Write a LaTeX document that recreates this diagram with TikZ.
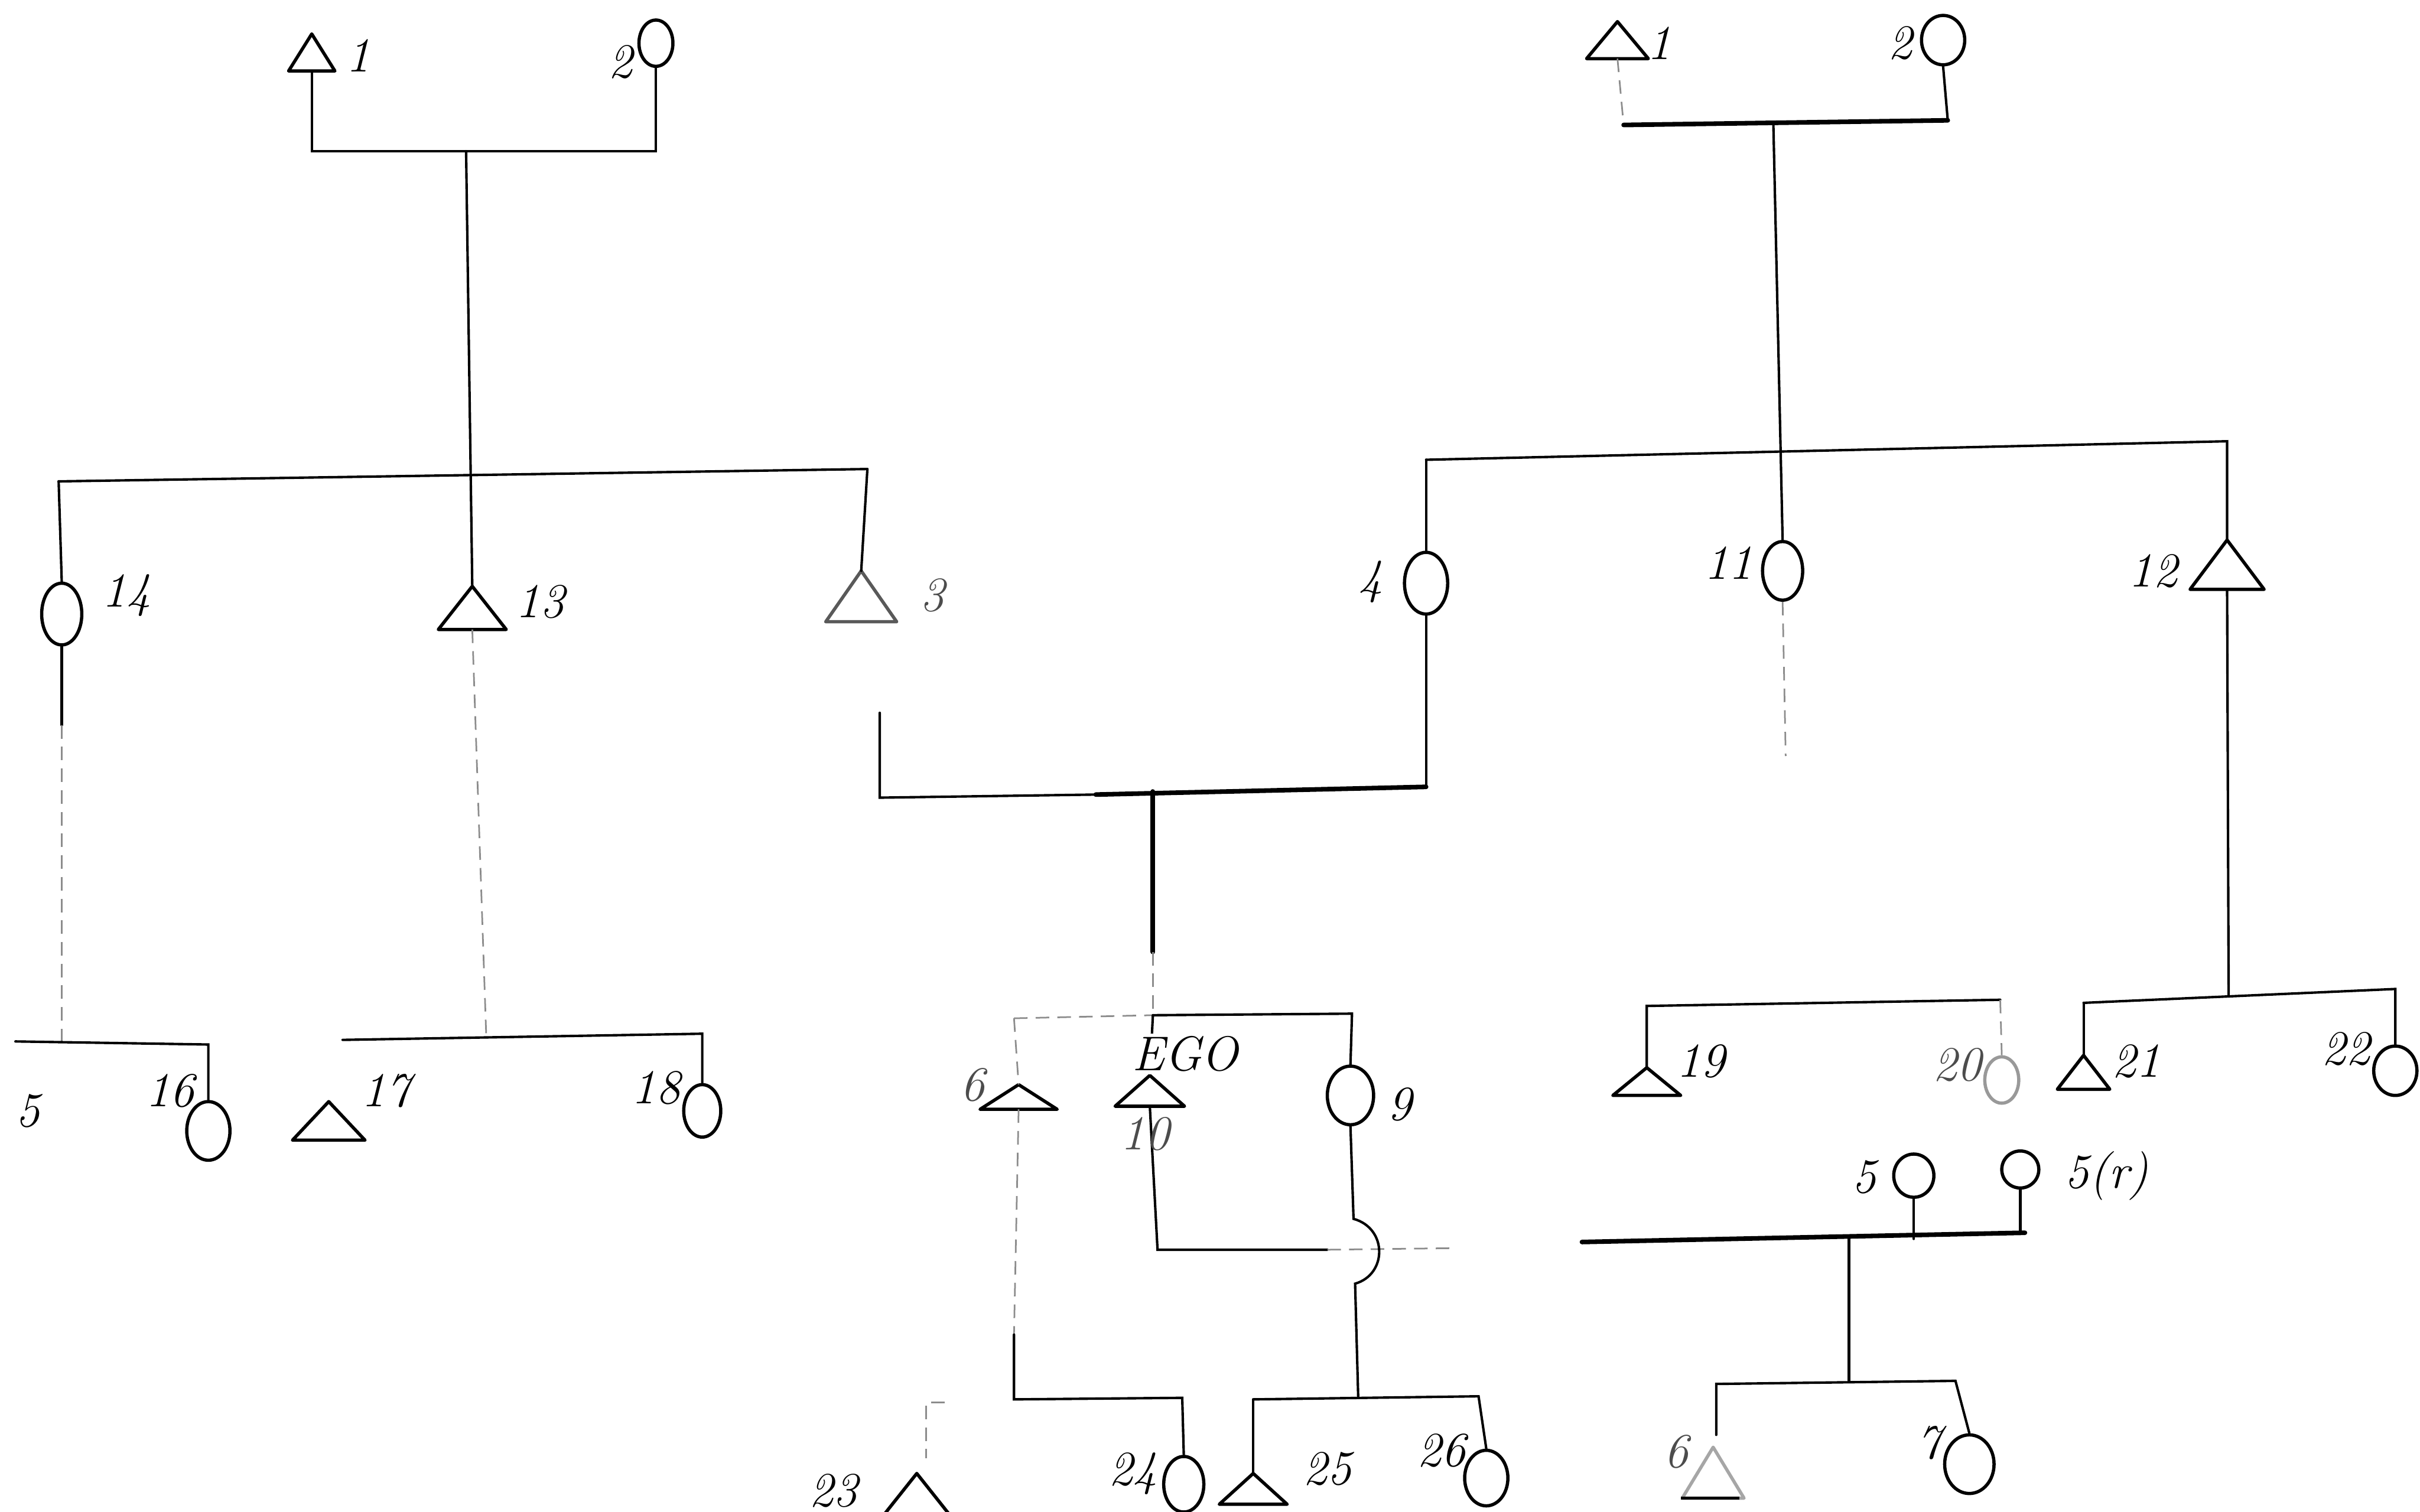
\documentclass[tikz,border=0pt]{standalone}
\usetikzlibrary{shapes.geometric}
\begin{document}
\begin{tikzpicture}[x=0.2mm,y=-0.2mm,
  ln/.style={line width=0.9pt, line cap=round},
  thk/.style={line width=1.7pt, line cap=round},
  fnt/.style={line width=0.6pt, black!45, dash pattern=on 5pt off 3pt},
  shp/.style={line width=1.2pt, line join=round},
  fem/.style 2 args={draw, ellipse, line width=1.2pt, inner sep=0pt, minimum width=#1*0.2mm, minimum height=#2*0.2mm},
  lbl/.style={font=\fontsize{18}{20}\selectfont\itshape, inner sep=0pt},
  pics/tri/.style args={#1/#2}{code={\draw[shp] (0,0) coordinate (-apex) -- ({#1/2},#2) -- ({-#1/2},#2) -- cycle; \coordinate (-base) at (0,#2);}}
]
\useasboundingbox (0,0) rectangle (1568,980);
\fill[white] (0,0) rectangle (1568,980);
\clip (0,0) rectangle (1568,980);

% ---------------- left tree ----------------
\pic (t1a) at (202,22) {tri=30/24};
\node[fem={22}{30}] (c2a) at (425,28) {};
\coordinate (m1l) at (202,98); \coordinate (m1r) at (425,98); \coordinate (d1) at (302,98);
\draw[ln] (t1a-base) -- (m1l) -- (m1r) -- (c2a.south);

\pic (t13) at (306,380) {tri=44/28};
\pic[black!65] (t3) at (558,370) {tri=46/33};
\node[fem={26}{40}] (c14) at (40,398) {};
\coordinate (s1l) at (38,312); \coordinate (s1r) at (562,304);
\draw[ln] (d1) -- (t13-apex);
\draw[ln] (s1l) -- (s1r);
\draw[ln] (s1l) -- (c14.north);
\draw[ln] (s1r) -- (t3-apex);

% children of 14
\node[fem={28}{38}] (c16) at (135,733) {};
\coordinate (k14) at (40,470); \coordinate (k14b) at (40,675);
\coordinate (b5l) at (10,675); \coordinate (b5r) at (135,677);
\draw[ln] (c14.south) -- (k14);
\draw[fnt] (k14) -- (k14b);
\draw[ln] (b5l) -- (b5r) -- (c16.north);

% children of 13
\pic (t17) at (213,714) {tri=47/25};
\node[fem={24}{34}] (c18) at (455,720) {};
\coordinate (k13) at (315,670); \coordinate (b17) at (222,674); \coordinate (b18) at (455,670);
\draw[fnt] (t13-base) -- (k13);
\draw[ln] (b17) -- (b18) -- (c18.north);

% ---------------- middle: marriage 3 -- 4 ----------------
\node[fem={28}{40}] (c4) at (924,378) {};
\coordinate (g3) at (570,462); \coordinate (g3b) at (570,517); \coordinate (gm) at (710,515);
\coordinate (g4) at (924,510); \coordinate (gs) at (747,513); \coordinate (gs2) at (747,617); \coordinate (gs3) at (747,658);
\draw[ln] (g3) -- (g3b) -- (gm);
\draw[thk] (gm) -- (g4);
\draw[ln] (g4) -- (c4.south);
\draw[thk] (gs) -- (gs2);
\draw[fnt] (gs2) -- (gs3);

% siblings 6, EGO/10, 9
\pic (t6) at (660,703) {tri=50/16};
\pic (t10) at (745,697) {tri=45/20};
\node[fem={30}{38}] (c9) at (875,710) {};
\coordinate (sb6) at (657,660); \coordinate (sb9) at (876,657);
\draw[fnt] (sb6) -- (gs3);
\draw[ln] (gs3) -- (sb9) -- (c9.north);
\draw[fnt] (sb6) -- (t6-apex);
\draw[ln] (gs3) -- (t10-apex);

% line from 10 (crossing)
\coordinate (h10) at (750,810); \coordinate (h10r) at (860,810); \coordinate (h10e) at (940,809);
\draw[ln] (t10-base) -- (h10) -- (h10r);
\draw[fnt] (h10r) -- (h10e);

% line from 9 with hop
\coordinate (hp1) at (877,790); \coordinate (hp2) at (878,832); \coordinate (j9) at (880,905);
\draw[ln] (c9.south) -- (hp1) .. controls (899,796) and (899,826) .. (hp2) -- (j9);
\pic (t25) at (812,955) {tri=44/20};
\node[fem={28}{36}] (c26) at (963,958) {};
\coordinate (b25) at (812,907); \coordinate (b26) at (958,905);
\draw[ln] (b25) -- (b26) -- (c26.north);
\draw[ln] (b25) -- (t25-apex);

% line from 6 to 24
\node[fem={26}{36}] (c24) at (767,962) {};
\coordinate (k6) at (657,865); \coordinate (b24l) at (657,907); \coordinate (b24r) at (766,906);
\draw[fnt] (t6-base) -- (k6);
\draw[ln] (k6) -- (b24l) -- (b24r) -- (c24.north);

% 23
\coordinate (b23) at (600,909); \coordinate (b23r) at (612,909); \coordinate (k23) at (600,945);
\draw[fnt] (b23r) -- (b23) -- (k23);
\pic (t23) at (594,955) {tri=54/34};

% ---------------- right tree ----------------
\pic (t1b) at (1048,14) {tri=40/24};
\node[fem={28}{32}] (c2b) at (1259,26) {};
\coordinate (m2l) at (1052,81); \coordinate (m2r) at (1262,78); \coordinate (d2) at (1149,80);
\draw[fnt] (t1b-base) -- (m2l);
\draw[thk] (m2l) -- (m2r);
\draw[ln] (m2r) -- (c2b.south);

\node[fem={26}{38}] (c11) at (1155,370) {};
\pic (t12) at (1443,350) {tri=48/32};
\coordinate (s2l) at (924,298); \coordinate (s2r) at (1443,286);
\draw[ln] (d2) -- (c11.north);
\draw[ln] (s2l) -- (s2r) -- (t12-apex);
\draw[ln] (s2l) -- (c4.north);
\coordinate (k11) at (1157,490);
\draw[fnt] (c11.south) -- (k11);

% children of 12
\pic (t21) at (1350,684) {tri=34/22};
\node[fem={28}{32}] (c22) at (1552,694) {};
\coordinate (j12) at (1444,645); \coordinate (b21) at (1350,650); \coordinate (b22) at (1552,641);
\draw[ln] (t12-base) -- (j12);
\draw[ln] (b21) -- (b22) -- (c22.north);
\draw[ln] (b21) -- (t21-apex);

% 19 and 20
\pic (t19) at (1067,692) {tri=44/18};
\node[fem={22}{30}, draw=black!40] (c20) at (1297,700) {};
\coordinate (b19) at (1067,652); \coordinate (b20) at (1296,648);
\draw[ln] (t19-apex) -- (b19) -- (b20);
\draw[fnt] (b20) -- (c20.north);

% bottom right family
\node[fem={26}{28}] (c5) at (1240,762) {};
\node[fem={24}{24}] (c5r) at (1309,758) {};
\coordinate (b5a) at (1025,805); \coordinate (b5b) at (1312,799);
\coordinate (j5) at (1198,803); \coordinate (j5b) at (1198,895);
\draw[ln] (c5.south) -- (c5.south |- j5);
\draw[ln] (c5r.south) -- (c5r.south |- b5b);
\draw[thk] (b5a) -- (b5b);
\draw[ln] (j5) -- (j5b);
\node[fem={32}{38}] (c7) at (1276,949) {};
\pic[black!35] (t6b) at (1110,938) {tri=40/33};
\draw[shp] (1089,971) -- (1127,971);
\coordinate (b6r) at (1112,897); \coordinate (b7) at (1267,895); \coordinate (k6r) at (1112,930);
\draw[ln] (k6r) -- (b6r) -- (b7) -- (c7.north);

% ---------------- labels ----------------
\node[lbl] (l1a) at (232,36) {1};
\node[lbl] (l2a) at (402,40) {2};
\node[lbl] (l14) at (82,386) {14};
\node[lbl] (l13) at (350,390) {13};
\node[lbl, black!70] (l3) at (604,386) {3};
\node[lbl] (l5a) at (18,720) {5};
\node[lbl] (l16) at (110,707) {16};
\node[lbl] (l17) at (250,707) {17};
\node[lbl] (l18) at (425,705) {18};
\node[lbl, black!70] (l6) at (630,703) {6};
\node[lbl, fill=white, inner sep=1pt] (lego) at (768,683) {EGO};
\node[lbl, black!70] (l10) at (742,735) {10};
\node[lbl] (l9) at (907,716) {9};
\node[lbl] (l23) at (540,966) {23};
\node[lbl] (l24) at (734,955) {24};
\node[lbl] (l25) at (860,952) {25};
\node[lbl] (l26) at (934,940) {26};
\node[lbl] (l4) at (888,377) {4};
\node[lbl] (l11) at (1120,365) {11};
\node[lbl] (l12) at (1395,370) {12};
\node[lbl] (l1b) at (1075,28) {1};
\node[lbl] (l2b) at (1231,28) {2};
\node[lbl] (l19) at (1102,688) {19};
\node[lbl, black!70] (l20) at (1268,690) {20};
\node[lbl] (l21) at (1384,688) {21};
\node[lbl] (l22) at (1520,680) {22};
\node[lbl] (l5b) at (1208,763) {5};
\node[lbl] (l5r) at (1365,762) {5(r)};
\node[lbl, black!70] (l6b) at (1086,941) {6};
\node[lbl] (l7) at (1250,935) {7};
\end{tikzpicture}
\end{document}
